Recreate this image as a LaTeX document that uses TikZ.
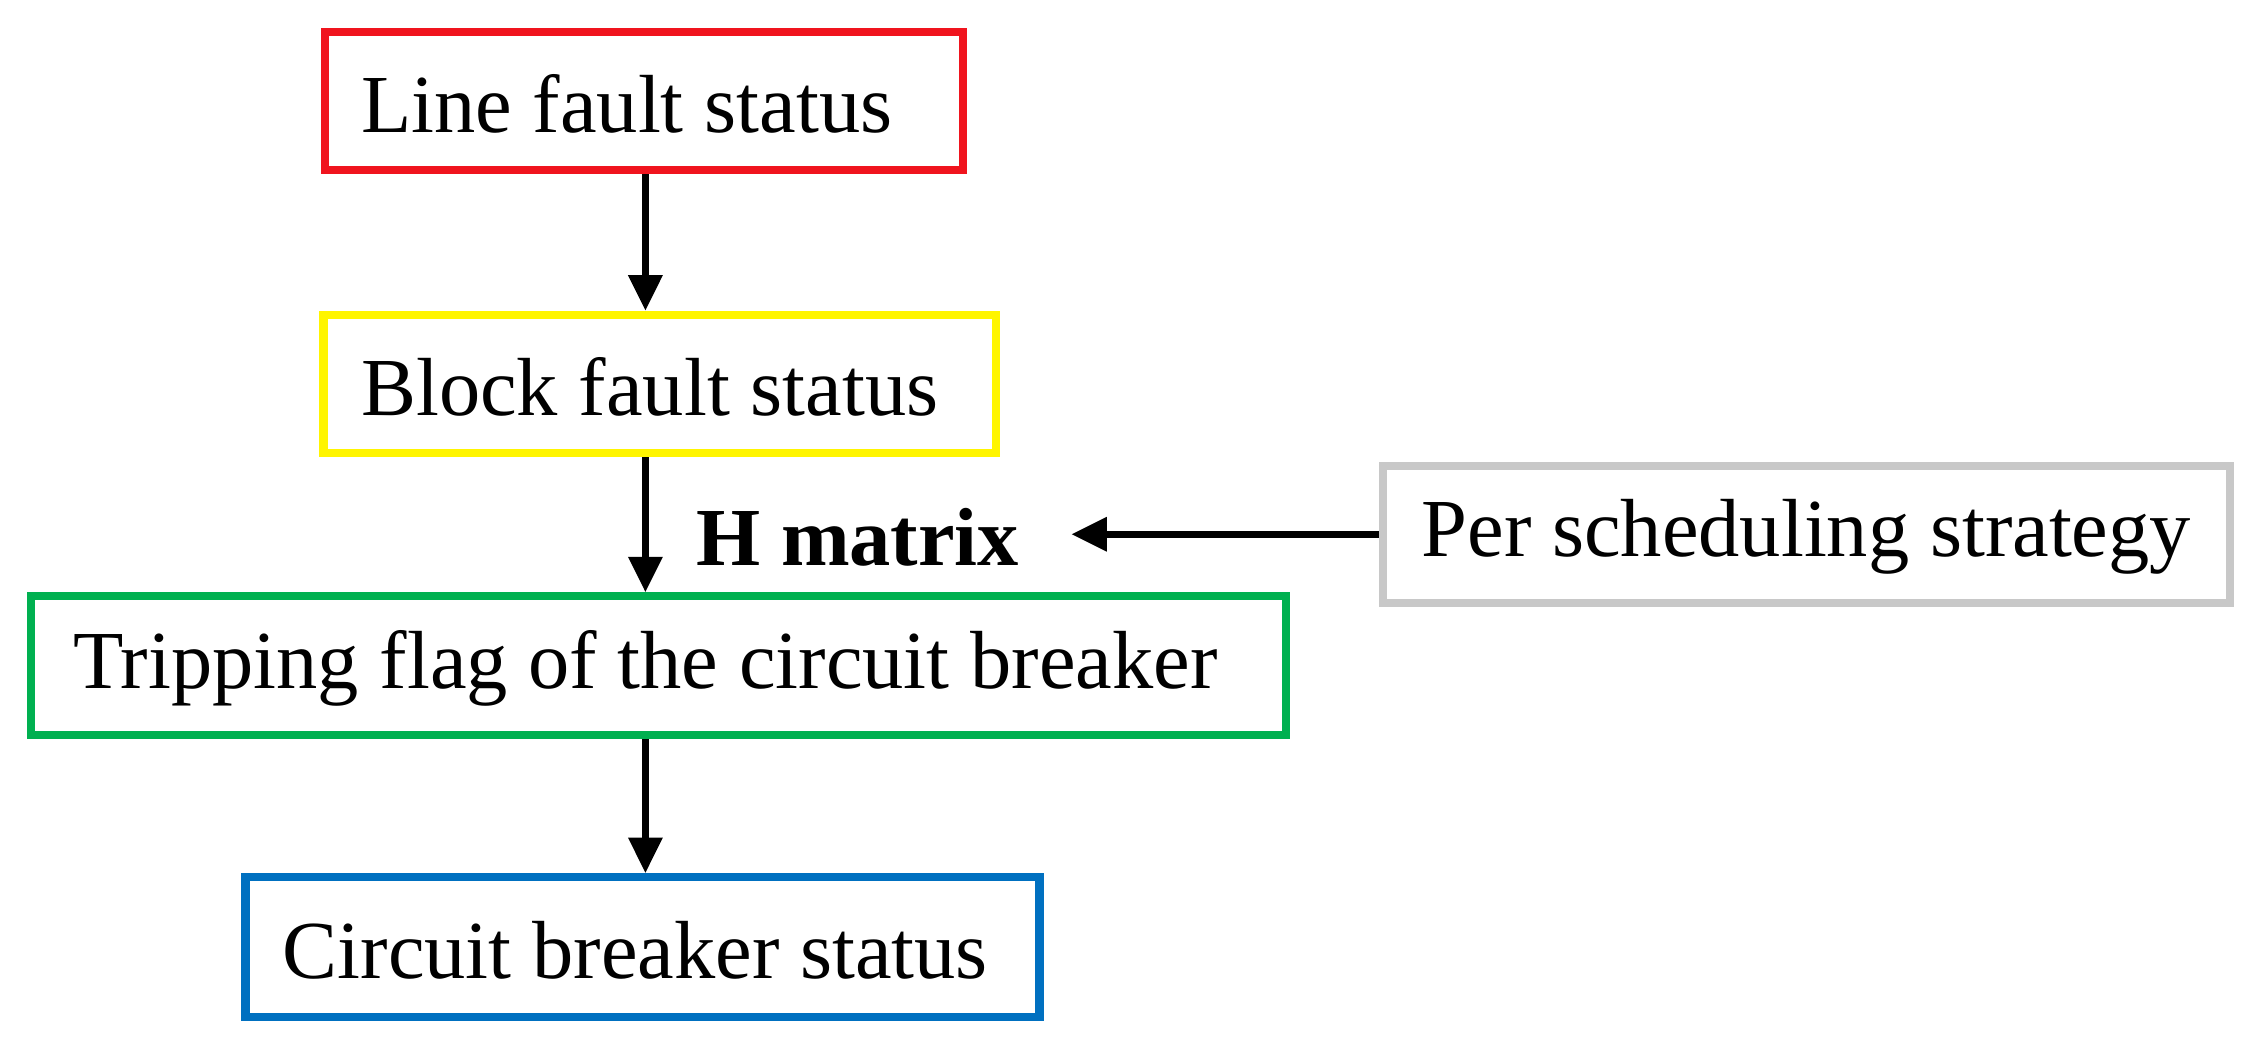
\documentclass[tikz,border=0pt]{standalone}
\usepackage{fontspec}
\setmainfont{Liberation Serif}
\usetikzlibrary{arrows.meta}
\definecolor{cred}{RGB}{240,20,30}
\definecolor{cyel}{RGB}{255,245,0}
\definecolor{cgry}{RGB}{200,200,200}
\definecolor{cgrn}{RGB}{0,176,80}
\definecolor{cblu}{RGB}{0,112,192}
\begin{document}
\begin{tikzpicture}[x=0.02cm,y=-0.02cm,
  box/.style={draw,line width=3.2pt,inner sep=0pt},
  txt/.style={inner sep=0pt,font=\fontsize{32.5}{38}\selectfont},
  arr/.style={line width=2.6pt,-{Triangle[length=14pt,width=13pt]}}]
\useasboundingbox (0,0) rectangle (1568,730);
\node[box,draw=cred,minimum width=8.84cm,minimum height=1.92cm] (a) at (446,70) {};
\node[box,draw=cyel,minimum width=9.32cm,minimum height=1.92cm] (b) at (457,266) {};
\node[box,draw=cgry,minimum width=11.74cm,minimum height=1.9cm] (g) at (1251,370) {};
\node[box,draw=cgrn,minimum width=17.38cm,minimum height=1.92cm] (c) at (456,461) {};
\node[box,draw=cblu,minimum width=11cm,minimum height=1.94cm] (d) at (445,656) {};
\node[txt] (ta) at (434,72) {Line fault status};
\node[txt] (tb) at (450,268) {Block fault status};
\node[txt] (tg) at (1251,372) {Per scheduling strategy};
\node[txt] (tc) at (447,463) {Tripping flag of the circuit breaker};
\node[txt] (td) at (440,658) {Circuit breaker status};
\node[txt,font=\fontsize{32.5}{38}\selectfont\bfseries] (h) at (594,372) {H matrix};
\coordinate (hend) at (742,370);
\draw[arr] (a.south -| 447,0) -- (b.north -| 447,0);
\draw[arr] (b.south -| 447,0) -- (c.north -| 447,0);
\draw[arr] (c.south -| 447,0) -- (d.north -| 447,0);
\draw[arr] (g.west) -- (hend);
\end{tikzpicture}
\end{document}
